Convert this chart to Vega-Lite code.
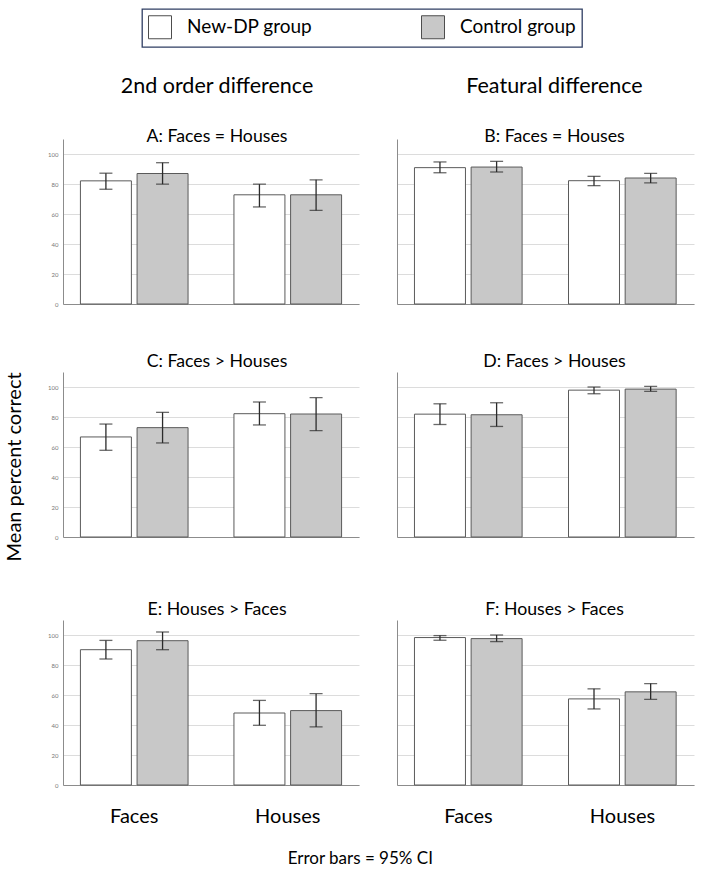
{
  "$schema": "https://vega.github.io/schema/vega-lite/v6.json",
  "padding": {"left": 4, "top": 8, "right": 5, "bottom": 5},
  "data": {
    "values": [
      {"panel": "A", "group": "New-DP group", "stim": "Faces", "mean": 82.1, "lo": 76.5, "hi": 87.2},
      {"panel": "A", "group": "Control group", "stim": "Faces", "mean": 87.0, "lo": 79.9, "hi": 94.2},
      {"panel": "A", "group": "New-DP group", "stim": "Houses", "mean": 72.8, "lo": 64.7, "hi": 79.9},
      {"panel": "A", "group": "Control group", "stim": "Houses", "mean": 72.8, "lo": 62.4, "hi": 82.8},
      {"panel": "B", "group": "New-DP group", "stim": "Faces", "mean": 90.9, "lo": 87.5, "hi": 94.7},
      {"panel": "B", "group": "Control group", "stim": "Faces", "mean": 91.3, "lo": 88.0, "hi": 95.1},
      {"panel": "B", "group": "New-DP group", "stim": "Houses", "mean": 82.2, "lo": 78.9, "hi": 85.1},
      {"panel": "B", "group": "Control group", "stim": "Houses", "mean": 84.0, "lo": 80.7, "hi": 87.1},
      {"panel": "C", "group": "New-DP group", "stim": "Faces", "mean": 66.7, "lo": 57.8, "hi": 75.3},
      {"panel": "C", "group": "Control group", "stim": "Faces", "mean": 72.9, "lo": 62.7, "hi": 83.1},
      {"panel": "C", "group": "New-DP group", "stim": "Houses", "mean": 82.2, "lo": 74.7, "hi": 90.0},
      {"panel": "C", "group": "Control group", "stim": "Houses", "mean": 82.0, "lo": 70.9, "hi": 92.9},
      {"panel": "D", "group": "New-DP group", "stim": "Faces", "mean": 81.9, "lo": 75.0, "hi": 88.8},
      {"panel": "D", "group": "Control group", "stim": "Faces", "mean": 81.5, "lo": 73.7, "hi": 89.5},
      {"panel": "D", "group": "New-DP group", "stim": "Houses", "mean": 97.9, "lo": 95.5, "hi": 100.0},
      {"panel": "D", "group": "Control group", "stim": "Houses", "mean": 98.6, "lo": 97.1, "hi": 100.4},
      {"panel": "E", "group": "New-DP group", "stim": "Faces", "mean": 90.2, "lo": 84.0, "hi": 96.4},
      {"panel": "E", "group": "Control group", "stim": "Faces", "mean": 96.2, "lo": 90.2, "hi": 102.0},
      {"panel": "E", "group": "New-DP group", "stim": "Houses", "mean": 48.0, "lo": 39.8, "hi": 56.4},
      {"panel": "E", "group": "Control group", "stim": "Houses", "mean": 49.6, "lo": 38.7, "hi": 60.9},
      {"panel": "F", "group": "New-DP group", "stim": "Faces", "mean": 98.3, "lo": 96.5, "hi": 99.6},
      {"panel": "F", "group": "Control group", "stim": "Faces", "mean": 97.6, "lo": 95.6, "hi": 100.0},
      {"panel": "F", "group": "New-DP group", "stim": "Houses", "mean": 57.4, "lo": 50.7, "hi": 64.1},
      {"panel": "F", "group": "Control group", "stim": "Houses", "mean": 62.1, "lo": 57.1, "hi": 67.6}
    ]
  },
  "title": {"text": "Error bars = 95% CI", "orient": "bottom", "anchor": "middle", "fontSize": 17, "offset": 25, "dx": 11},
  "vconcat": [
    {
      "title": {"text": "Mean percent correct", "orient": "left", "anchor": "middle", "fontSize": 20, "offset": 23, "dx": -16},
      "spacing": 61,
      "vconcat": [
        {
          "spacing": 46,
          "vconcat": [
            {
              "spacing": 38,
              "hconcat": [
                {
                  "title": {"text": "2nd order difference", "subtitle": "A: Faces = Houses", "fontSize": 21.5, "subtitleFontSize": 17.7, "subtitlePadding": 31, "offset": -7, "frame": "group", "dx": 6},
                  "width": 296, "height": 165,
                  "transform": [{"filter": "datum.panel === 'A'"}],
                  "encoding": {
                    "x": {"field": "stim", "type": "nominal", "scale": {"paddingInner": 0.262, "paddingOuter": 0.095}, "axis": {"labels": false, "ticks": false, "title": null, "domainColor": "#8c8c8c"}},
                    "xOffset": {"field": "group", "type": "nominal", "sort": ["New-DP group", "Control group"], "scale": {"paddingInner": 0.1, "paddingOuter": 0.05}}
                  },
                  "layer": [
                    {"mark": {"type": "bar", "stroke": "#5a5a5a", "strokeWidth": 1}, "encoding": {"y": {"field": "mean", "type": "quantitative", "scale": {"domain": [0, 110]}, "axis": {"values": [0, 20, 40, 60, 80, 100], "title": null, "ticks": false, "labelFontSize": 6, "labelColor": "#777777", "labelPadding": 5, "labelOverlap": false, "domainColor": "#8c8c8c", "gridColor": "#dcdcdc"}}, "color": {"field": "group", "type": "nominal", "sort": ["New-DP group", "Control group"], "scale": {"domain": ["New-DP group", "Control group"], "range": ["#ffffff", "#c8c8c8"]}, "legend": {"title": null}}}},
                    {"mark": {"type": "rule", "color": "#2b2b2b", "strokeWidth": 1.3}, "encoding": {"y": {"field": "lo", "type": "quantitative", "scale": {"domain": [0, 110]}, "axis": {"values": [0, 20, 40, 60, 80, 100], "title": null, "ticks": false, "labelFontSize": 6, "labelColor": "#777777", "labelPadding": 5, "labelOverlap": false, "domainColor": "#8c8c8c", "gridColor": "#dcdcdc"}}, "y2": {"field": "hi"}}},
                    {"mark": {"type": "tick", "color": "#2b2b2b", "size": 13, "thickness": 1.3}, "encoding": {"y": {"field": "lo", "type": "quantitative", "scale": {"domain": [0, 110]}, "axis": {"values": [0, 20, 40, 60, 80, 100], "title": null, "ticks": false, "labelFontSize": 6, "labelColor": "#777777", "labelPadding": 5, "labelOverlap": false, "domainColor": "#8c8c8c", "gridColor": "#dcdcdc"}}}},
                    {"mark": {"type": "tick", "color": "#2b2b2b", "size": 13, "thickness": 1.3}, "encoding": {"y": {"field": "hi", "type": "quantitative", "scale": {"domain": [0, 110]}, "axis": {"values": [0, 20, 40, 60, 80, 100], "title": null, "ticks": false, "labelFontSize": 6, "labelColor": "#777777", "labelPadding": 5, "labelOverlap": false, "domainColor": "#8c8c8c", "gridColor": "#dcdcdc"}}}}
                  ]
                },
                {
                  "title": {"text": "Featural difference", "subtitle": "B: Faces = Houses", "fontSize": 21.5, "subtitleFontSize": 17.7, "subtitlePadding": 31, "offset": -7, "frame": "group", "dx": 9},
                  "width": 297, "height": 165,
                  "transform": [{"filter": "datum.panel === 'B'"}],
                  "encoding": {
                    "x": {"field": "stim", "type": "nominal", "scale": {"paddingInner": 0.262, "paddingOuter": 0.095}, "axis": {"labels": false, "ticks": false, "title": null, "domainColor": "#8c8c8c"}},
                    "xOffset": {"field": "group", "type": "nominal", "sort": ["New-DP group", "Control group"], "scale": {"paddingInner": 0.1, "paddingOuter": 0.05}}
                  },
                  "layer": [
                    {"mark": {"type": "bar", "stroke": "#5a5a5a", "strokeWidth": 1}, "encoding": {"y": {"field": "mean", "type": "quantitative", "scale": {"domain": [0, 110]}, "axis": {"values": [0, 20, 40, 60, 80, 100], "title": null, "ticks": false, "labels": false, "domainColor": "#8c8c8c", "gridColor": "#dcdcdc"}}, "color": {"field": "group", "type": "nominal", "sort": ["New-DP group", "Control group"], "scale": {"domain": ["New-DP group", "Control group"], "range": ["#ffffff", "#c8c8c8"]}, "legend": {"title": null}}}},
                    {"mark": {"type": "rule", "color": "#2b2b2b", "strokeWidth": 1.3}, "encoding": {"y": {"field": "lo", "type": "quantitative", "scale": {"domain": [0, 110]}, "axis": {"values": [0, 20, 40, 60, 80, 100], "title": null, "ticks": false, "labels": false, "domainColor": "#8c8c8c", "gridColor": "#dcdcdc"}}, "y2": {"field": "hi"}}},
                    {"mark": {"type": "tick", "color": "#2b2b2b", "size": 13, "thickness": 1.3}, "encoding": {"y": {"field": "lo", "type": "quantitative", "scale": {"domain": [0, 110]}, "axis": {"values": [0, 20, 40, 60, 80, 100], "title": null, "ticks": false, "labels": false, "domainColor": "#8c8c8c", "gridColor": "#dcdcdc"}}}},
                    {"mark": {"type": "tick", "color": "#2b2b2b", "size": 13, "thickness": 1.3}, "encoding": {"y": {"field": "hi", "type": "quantitative", "scale": {"domain": [0, 110]}, "axis": {"values": [0, 20, 40, 60, 80, 100], "title": null, "ticks": false, "labels": false, "domainColor": "#8c8c8c", "gridColor": "#dcdcdc"}}}}
                  ]
                }
              ]
            },
            {
              "spacing": 38,
              "hconcat": [
                {
                  "title": {"text": "C: Faces > Houses", "fontSize": 17.7, "offset": 1, "frame": "group", "dx": 6},
                  "width": 296, "height": 165,
                  "transform": [{"filter": "datum.panel === 'C'"}],
                  "encoding": {
                    "x": {"field": "stim", "type": "nominal", "scale": {"paddingInner": 0.262, "paddingOuter": 0.095}, "axis": {"labels": false, "ticks": false, "title": null, "domainColor": "#8c8c8c"}},
                    "xOffset": {"field": "group", "type": "nominal", "sort": ["New-DP group", "Control group"], "scale": {"paddingInner": 0.1, "paddingOuter": 0.05}}
                  },
                  "layer": [
                    {"mark": {"type": "bar", "stroke": "#5a5a5a", "strokeWidth": 1}, "encoding": {"y": {"field": "mean", "type": "quantitative", "scale": {"domain": [0, 110]}, "axis": {"values": [0, 20, 40, 60, 80, 100], "title": null, "ticks": false, "labelFontSize": 6, "labelColor": "#777777", "labelPadding": 5, "labelOverlap": false, "domainColor": "#8c8c8c", "gridColor": "#dcdcdc"}}, "color": {"field": "group", "type": "nominal", "sort": ["New-DP group", "Control group"], "scale": {"domain": ["New-DP group", "Control group"], "range": ["#ffffff", "#c8c8c8"]}, "legend": {"title": null}}}},
                    {"mark": {"type": "rule", "color": "#2b2b2b", "strokeWidth": 1.3}, "encoding": {"y": {"field": "lo", "type": "quantitative", "scale": {"domain": [0, 110]}, "axis": {"values": [0, 20, 40, 60, 80, 100], "title": null, "ticks": false, "labelFontSize": 6, "labelColor": "#777777", "labelPadding": 5, "labelOverlap": false, "domainColor": "#8c8c8c", "gridColor": "#dcdcdc"}}, "y2": {"field": "hi"}}},
                    {"mark": {"type": "tick", "color": "#2b2b2b", "size": 13, "thickness": 1.3}, "encoding": {"y": {"field": "lo", "type": "quantitative", "scale": {"domain": [0, 110]}, "axis": {"values": [0, 20, 40, 60, 80, 100], "title": null, "ticks": false, "labelFontSize": 6, "labelColor": "#777777", "labelPadding": 5, "labelOverlap": false, "domainColor": "#8c8c8c", "gridColor": "#dcdcdc"}}}},
                    {"mark": {"type": "tick", "color": "#2b2b2b", "size": 13, "thickness": 1.3}, "encoding": {"y": {"field": "hi", "type": "quantitative", "scale": {"domain": [0, 110]}, "axis": {"values": [0, 20, 40, 60, 80, 100], "title": null, "ticks": false, "labelFontSize": 6, "labelColor": "#777777", "labelPadding": 5, "labelOverlap": false, "domainColor": "#8c8c8c", "gridColor": "#dcdcdc"}}}}
                  ]
                },
                {
                  "title": {"text": "D: Faces > Houses", "fontSize": 17.7, "offset": 1, "frame": "group", "dx": 9},
                  "width": 297, "height": 165,
                  "transform": [{"filter": "datum.panel === 'D'"}],
                  "encoding": {
                    "x": {"field": "stim", "type": "nominal", "scale": {"paddingInner": 0.262, "paddingOuter": 0.095}, "axis": {"labels": false, "ticks": false, "title": null, "domainColor": "#8c8c8c"}},
                    "xOffset": {"field": "group", "type": "nominal", "sort": ["New-DP group", "Control group"], "scale": {"paddingInner": 0.1, "paddingOuter": 0.05}}
                  },
                  "layer": [
                    {"mark": {"type": "bar", "stroke": "#5a5a5a", "strokeWidth": 1}, "encoding": {"y": {"field": "mean", "type": "quantitative", "scale": {"domain": [0, 110]}, "axis": {"values": [0, 20, 40, 60, 80, 100], "title": null, "ticks": false, "labels": false, "domainColor": "#8c8c8c", "gridColor": "#dcdcdc"}}, "color": {"field": "group", "type": "nominal", "sort": ["New-DP group", "Control group"], "scale": {"domain": ["New-DP group", "Control group"], "range": ["#ffffff", "#c8c8c8"]}, "legend": {"title": null}}}},
                    {"mark": {"type": "rule", "color": "#2b2b2b", "strokeWidth": 1.3}, "encoding": {"y": {"field": "lo", "type": "quantitative", "scale": {"domain": [0, 110]}, "axis": {"values": [0, 20, 40, 60, 80, 100], "title": null, "ticks": false, "labels": false, "domainColor": "#8c8c8c", "gridColor": "#dcdcdc"}}, "y2": {"field": "hi"}}},
                    {"mark": {"type": "tick", "color": "#2b2b2b", "size": 13, "thickness": 1.3}, "encoding": {"y": {"field": "lo", "type": "quantitative", "scale": {"domain": [0, 110]}, "axis": {"values": [0, 20, 40, 60, 80, 100], "title": null, "ticks": false, "labels": false, "domainColor": "#8c8c8c", "gridColor": "#dcdcdc"}}}},
                    {"mark": {"type": "tick", "color": "#2b2b2b", "size": 13, "thickness": 1.3}, "encoding": {"y": {"field": "hi", "type": "quantitative", "scale": {"domain": [0, 110]}, "axis": {"values": [0, 20, 40, 60, 80, 100], "title": null, "ticks": false, "labels": false, "domainColor": "#8c8c8c", "gridColor": "#dcdcdc"}}}}
                  ]
                }
              ]
            }
          ]
        },
        {
          "spacing": 38,
          "hconcat": [
            {
              "title": {"text": "E: Houses > Faces", "fontSize": 17.7, "offset": 1, "frame": "group", "dx": 6},
              "width": 296, "height": 165,
              "transform": [{"filter": "datum.panel === 'E'"}],
              "encoding": {
                "x": {"field": "stim", "type": "nominal", "scale": {"paddingInner": 0.262, "paddingOuter": 0.095}, "axis": {"labelAngle": 0, "labelFontSize": 20, "labelColor": "black", "labelPadding": 21, "ticks": false, "title": null, "domainColor": "#8c8c8c"}},
                "xOffset": {"field": "group", "type": "nominal", "sort": ["New-DP group", "Control group"], "scale": {"paddingInner": 0.1, "paddingOuter": 0.05}}
              },
              "layer": [
                {"mark": {"type": "bar", "stroke": "#5a5a5a", "strokeWidth": 1}, "encoding": {"y": {"field": "mean", "type": "quantitative", "scale": {"domain": [0, 110]}, "axis": {"values": [0, 20, 40, 60, 80, 100], "title": null, "ticks": false, "labelFontSize": 6, "labelColor": "#777777", "labelPadding": 5, "labelOverlap": false, "domainColor": "#8c8c8c", "gridColor": "#dcdcdc"}}, "color": {"field": "group", "type": "nominal", "sort": ["New-DP group", "Control group"], "scale": {"domain": ["New-DP group", "Control group"], "range": ["#ffffff", "#c8c8c8"]}, "legend": {"title": null}}}},
                {"mark": {"type": "rule", "color": "#2b2b2b", "strokeWidth": 1.3}, "encoding": {"y": {"field": "lo", "type": "quantitative", "scale": {"domain": [0, 110]}, "axis": {"values": [0, 20, 40, 60, 80, 100], "title": null, "ticks": false, "labelFontSize": 6, "labelColor": "#777777", "labelPadding": 5, "labelOverlap": false, "domainColor": "#8c8c8c", "gridColor": "#dcdcdc"}}, "y2": {"field": "hi"}}},
                {"mark": {"type": "tick", "color": "#2b2b2b", "size": 13, "thickness": 1.3}, "encoding": {"y": {"field": "lo", "type": "quantitative", "scale": {"domain": [0, 110]}, "axis": {"values": [0, 20, 40, 60, 80, 100], "title": null, "ticks": false, "labelFontSize": 6, "labelColor": "#777777", "labelPadding": 5, "labelOverlap": false, "domainColor": "#8c8c8c", "gridColor": "#dcdcdc"}}}},
                {"mark": {"type": "tick", "color": "#2b2b2b", "size": 13, "thickness": 1.3}, "encoding": {"y": {"field": "hi", "type": "quantitative", "scale": {"domain": [0, 110]}, "axis": {"values": [0, 20, 40, 60, 80, 100], "title": null, "ticks": false, "labelFontSize": 6, "labelColor": "#777777", "labelPadding": 5, "labelOverlap": false, "domainColor": "#8c8c8c", "gridColor": "#dcdcdc"}}}}
              ]
            },
            {
              "title": {"text": "F: Houses > Faces", "fontSize": 17.7, "offset": 1, "frame": "group", "dx": 9},
              "width": 297, "height": 165,
              "transform": [{"filter": "datum.panel === 'F'"}],
              "encoding": {
                "x": {"field": "stim", "type": "nominal", "scale": {"paddingInner": 0.262, "paddingOuter": 0.095}, "axis": {"labelAngle": 0, "labelFontSize": 20, "labelColor": "black", "labelPadding": 21, "ticks": false, "title": null, "domainColor": "#8c8c8c"}},
                "xOffset": {"field": "group", "type": "nominal", "sort": ["New-DP group", "Control group"], "scale": {"paddingInner": 0.1, "paddingOuter": 0.05}}
              },
              "layer": [
                {"mark": {"type": "bar", "stroke": "#5a5a5a", "strokeWidth": 1}, "encoding": {"y": {"field": "mean", "type": "quantitative", "scale": {"domain": [0, 110]}, "axis": {"values": [0, 20, 40, 60, 80, 100], "title": null, "ticks": false, "labels": false, "domainColor": "#8c8c8c", "gridColor": "#dcdcdc"}}, "color": {"field": "group", "type": "nominal", "sort": ["New-DP group", "Control group"], "scale": {"domain": ["New-DP group", "Control group"], "range": ["#ffffff", "#c8c8c8"]}, "legend": {"title": null}}}},
                {"mark": {"type": "rule", "color": "#2b2b2b", "strokeWidth": 1.3}, "encoding": {"y": {"field": "lo", "type": "quantitative", "scale": {"domain": [0, 110]}, "axis": {"values": [0, 20, 40, 60, 80, 100], "title": null, "ticks": false, "labels": false, "domainColor": "#8c8c8c", "gridColor": "#dcdcdc"}}, "y2": {"field": "hi"}}},
                {"mark": {"type": "tick", "color": "#2b2b2b", "size": 13, "thickness": 1.3}, "encoding": {"y": {"field": "lo", "type": "quantitative", "scale": {"domain": [0, 110]}, "axis": {"values": [0, 20, 40, 60, 80, 100], "title": null, "ticks": false, "labels": false, "domainColor": "#8c8c8c", "gridColor": "#dcdcdc"}}}},
                {"mark": {"type": "tick", "color": "#2b2b2b", "size": 13, "thickness": 1.3}, "encoding": {"y": {"field": "hi", "type": "quantitative", "scale": {"domain": [0, 110]}, "axis": {"values": [0, 20, 40, 60, 80, 100], "title": null, "ticks": false, "labels": false, "domainColor": "#8c8c8c", "gridColor": "#dcdcdc"}}}}
              ]
            }
          ]
        }
      ]
    }
  ],
  "config": {
    "font": "Lato",
    "view": {"stroke": null},
    "axis": {"labelFont": "Lato", "titleFont": "Lato"},
    "title": {"font": "Lato", "fontWeight": "normal", "color": "black", "subtitleFont": "Lato", "subtitleColor": "black"},
    "legend": {
      "orient": "none", "legendX": 79, "legendY": -130, "direction": "horizontal",
      "strokeColor": "#2f3e63", "strokeWidth": 1.3, "padding": 6, "fillColor": "white",
      "labelFont": "Lato", "labelFontSize": 19, "labelColor": "black", "labelOffset": 15,
      "symbolType": "square", "symbolSize": 529, "symbolStrokeColor": "#4d4d4d", "symbolStrokeWidth": 1,
      "columnPadding": 106
    }
  }
}
